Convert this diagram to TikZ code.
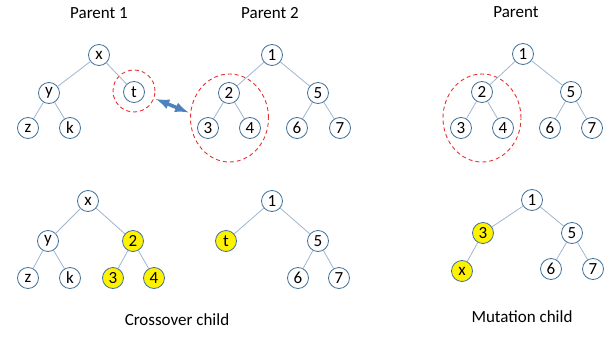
\documentclass[tikz,border=0pt]{standalone}
\usepackage{fontspec}
\setmainfont{Carlito}
\usepackage{tikz}
\usetikzlibrary{arrows,shapes.geometric}
\definecolor{nodeblue}{RGB}{65,113,156}
\definecolor{edgeblue}{RGB}{160,182,208}
\definecolor{cutred}{RGB}{230,50,50}
\definecolor{arrowblue}{RGB}{79,129,189}
\tikzset{
    treenode/.style = {
        circle,
        draw=nodeblue,
        line width=0.8pt,
        fill=white,
        minimum size=21pt,
        inner sep=0pt,
        outer sep=0pt,
        font=\fontsize{17}{19}\selectfont
    },
    hlnode/.style = {
        treenode,
        fill=yellow
    },
    treeedge/.style = {
        draw=edgeblue,
        line width=0.8pt
    },
    cutcircle/.style = {
        circle,
        draw=cutred,
        line width=0.9pt,
        dash pattern=on 4pt off 3pt,
        minimum size=42pt,
        inner sep=0pt
    },
    cutellipse/.style = {
        ellipse,
        draw=cutred,
        line width=0.9pt,
        dash pattern=on 4pt off 3pt,
        minimum width=78pt,
        minimum height=88pt,
        inner sep=0pt
    },
    titletext/.style = {
        font=\fontsize{17}{20}\selectfont
    }
}

\begin{document}
\begin{tikzpicture}[x=1pt,y=-1pt]
            \useasboundingbox (0,0) rectangle (616,337);

            \node [titletext] (title1) at (99,13) {Parent 1};
            \node [titletext] (title2) at (270,13) {Parent 2};
            \node [titletext] (title3) at (516,12) {Parent};
            \node [titletext] (crosslabel) at (177,320) {Crossover child};
            \node [titletext] (mutlabel) at (522,317) {Mutation child};

            \node [cutcircle] (tcut) at (134,91) {};
            \node [cutellipse] (cuta) at (229.5,118) {};
            \node [cutellipse] (cutb) at (482,118) {};

            \node [treenode] (p1x) at (99,55) {x};
            \node [treenode] (p1y) at (49,93) {y};
            \node [treenode] (p1t) at (134,92) {t};
            \node [treenode] (p1z) at (28,128) {z};
            \node [treenode] (p1k) at (70,128) {k};
            \draw [treeedge] (p1x) -- (p1y) (p1x) -- (p1t) (p1y) -- (p1z) (p1y) -- (p1k);

            \node [treenode] (p2a) at (272,55) {1};
            \node [treenode] (p2b) at (229,93) {2};
            \node [treenode] (p2e) at (318,93) {5};
            \node [treenode] (p2c) at (208,128) {3};
            \node [treenode] (p2d) at (250,128) {4};
            \node [treenode] (p2f) at (297,128) {6};
            \node [treenode] (p2g) at (340,128) {7};
            \draw [treeedge] (p2a) -- (p2b) (p2a) -- (p2e) (p2b) -- (p2c) (p2b) -- (p2d) (p2e) -- (p2f) (p2e) -- (p2g);

            \node [treenode] (p3a) at (523,54) {1};
            \node [treenode] (p3b) at (482,92) {2};
            \node [treenode] (p3e) at (571,92) {5};
            \node [treenode] (p3c) at (461,128) {3};
            \node [treenode] (p3d) at (503,128) {4};
            \node [treenode] (p3f) at (550,128) {6};
            \node [treenode] (p3g) at (592,128) {7};
            \draw [treeedge] (p3a) -- (p3b) (p3a) -- (p3e) (p3b) -- (p3c) (p3b) -- (p3d) (p3e) -- (p3f) (p3e) -- (p3g);

            \draw [arrowblue, line width=3.5pt, shorten >=2pt, shorten <=2pt, latex-latex] (tcut.-20) -- (cuta.173);

            \node [treenode] (c1x) at (88,201) {x};
            \node [treenode] (c1y) at (48,241) {y};
            \node [hlnode] (c1b) at (133,241) {2};
            \node [treenode] (c1z) at (28,278) {z};
            \node [treenode] (c1k) at (70,278) {k};
            \node [hlnode] (c1c) at (113,278) {3};
            \node [hlnode] (c1d) at (154,278) {4};
            \draw [treeedge] (c1x) -- (c1y) (c1x) -- (c1b) (c1y) -- (c1z) (c1y) -- (c1k) (c1b) -- (c1c) (c1b) -- (c1d);

            \node [treenode] (c2a) at (272,201) {1};
            \node [hlnode] (c2t) at (226,241) {t};
            \node [treenode] (c2e) at (318,241) {5};
            \node [treenode] (c2f) at (298,278) {6};
            \node [treenode] (c2g) at (339,278) {7};
            \draw [treeedge] (c2a) -- (c2t) (c2a) -- (c2e) (c2e) -- (c2f) (c2e) -- (c2g);

            \node [treenode] (m1a) at (532,200) {1};
            \node [hlnode] (m1c) at (483,233) {3};
            \node [treenode] (m1e) at (572,233) {5};
            \node [hlnode] (m1x) at (462,271) {x};
            \node [treenode] (m1f) at (551,269) {6};
            \node [treenode] (m1g) at (593,269) {7};
            \draw [treeedge] (m1a) -- (m1c) (m1a) -- (m1e) (m1c) -- (m1x) (m1e) -- (m1f) (m1e) -- (m1g);
\end{tikzpicture}
\end{document}
